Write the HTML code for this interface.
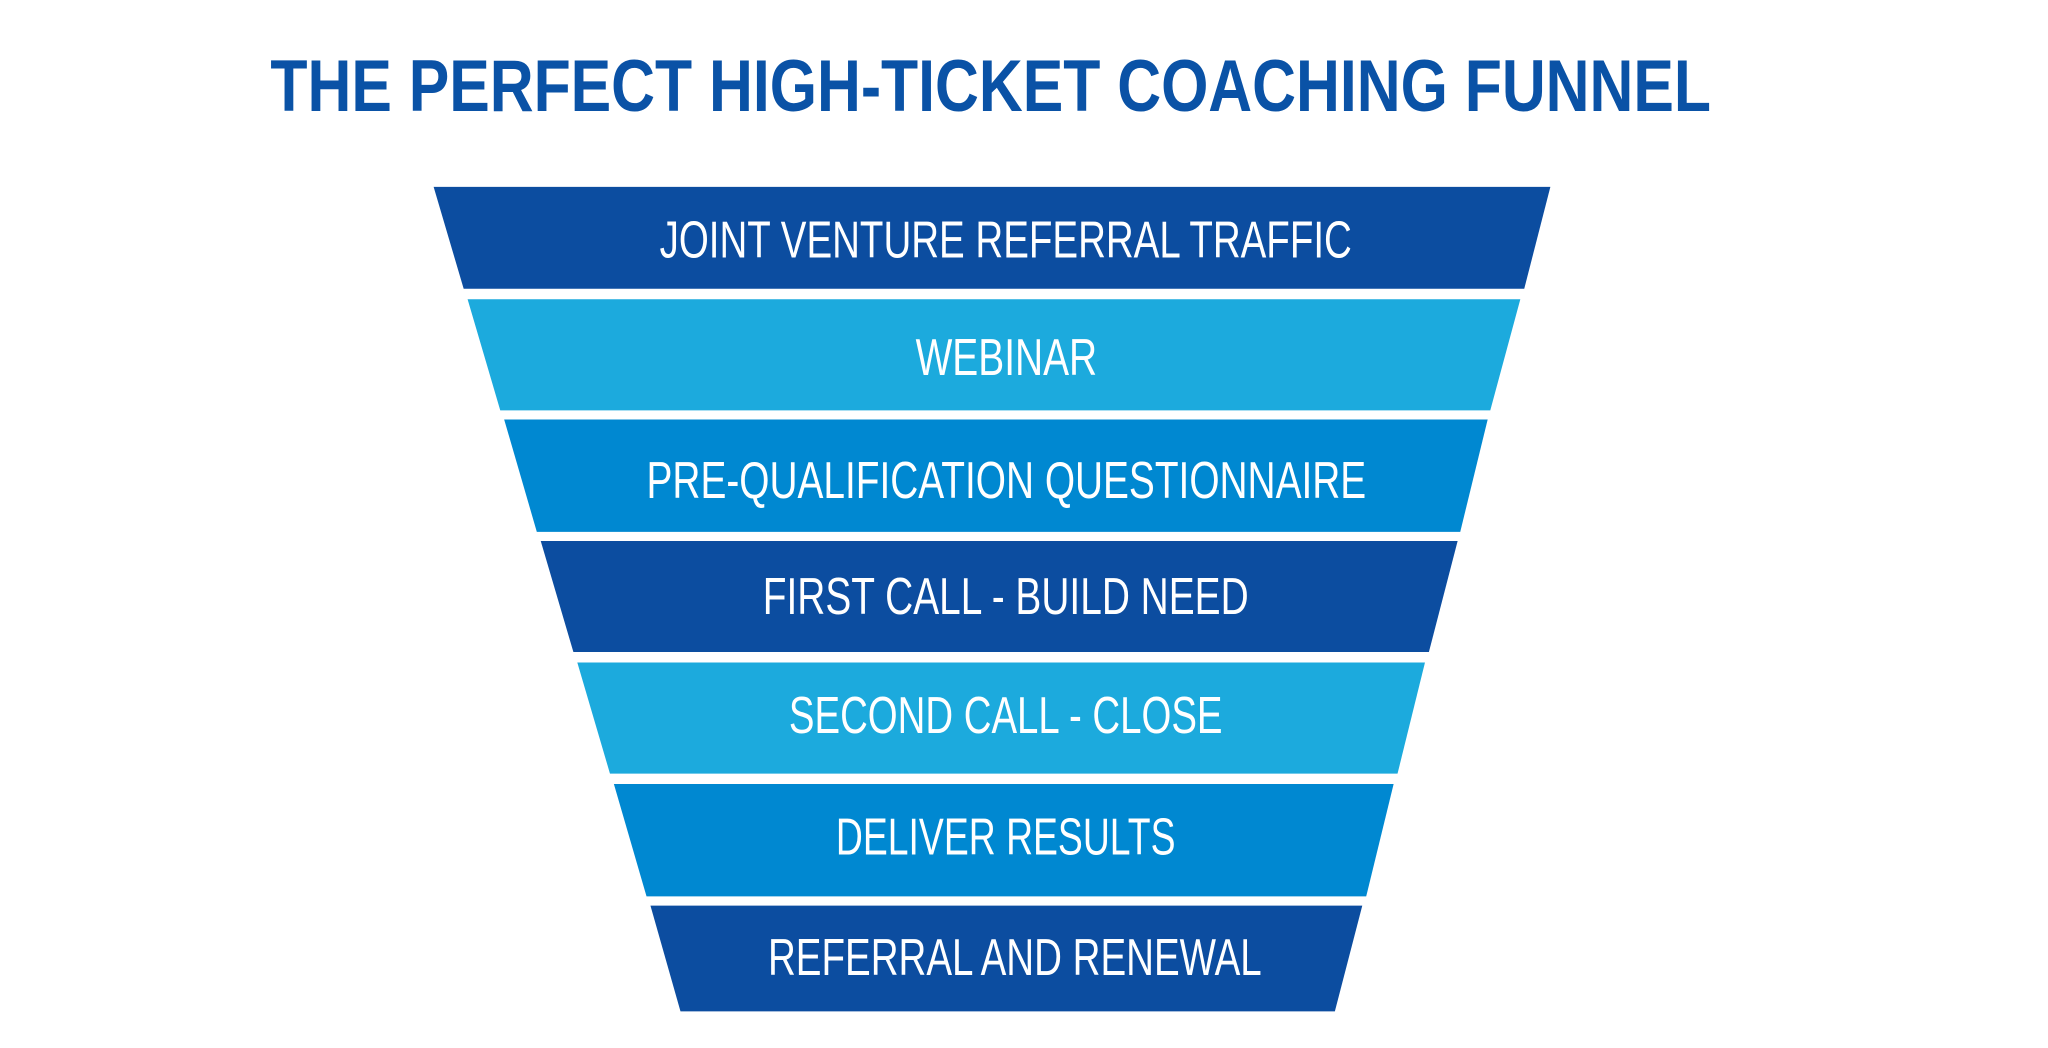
<!DOCTYPE html>
<html><head><meta charset="utf-8"><style>
html,body{margin:0;padding:0;background:#fff;width:2048px;height:1048px;overflow:hidden}
svg{display:block}
text{font-family:"Liberation Sans",sans-serif;fill:#fff}
</style></head><body>
<svg width="2048" height="1048" viewBox="0 0 1568 802" preserveAspectRatio="none">
<text x="207" y="85" font-size="56" font-weight="bold" textLength="1103" lengthAdjust="spacingAndGlyphs" style="fill:#0a52a6">THE PERFECT HIGH-TICKET COACHING FUNNEL</text>
<polygon points="332,143 1187,143 1167,221 355,221" fill="#0c4da0"/>
<polygon points="358,229 1164,229 1141,314 383,314" fill="#1caadd"/>
<polygon points="386,321 1139,321 1118,407 411,407" fill="#0088d1"/>
<polygon points="414,414 1116,414 1094,499 439,499" fill="#0c4da0"/>
<polygon points="442,507 1091,507 1070,592 467,592" fill="#1caadd"/>
<polygon points="470,600 1067,600 1046,686 495,686" fill="#0088d1"/>
<polygon points="498,693 1043,693 1022,774 521,774" fill="#0c4da0"/>
<g font-size="40">
<text x="505" y="197" textLength="530" lengthAdjust="spacingAndGlyphs">JOINT VENTURE REFERRAL TRAFFIC</text>
<text x="701" y="287" textLength="139" lengthAdjust="spacingAndGlyphs">WEBINAR</text>
<text x="495" y="381" textLength="551" lengthAdjust="spacingAndGlyphs">PRE-QUALIFICATION QUESTIONNAIRE</text>
<text x="584" y="470" textLength="372" lengthAdjust="spacingAndGlyphs">FIRST CALL - BUILD NEED</text>
<text x="604" y="561" textLength="332" lengthAdjust="spacingAndGlyphs">SECOND CALL - CLOSE</text>
<text x="640" y="654" textLength="260" lengthAdjust="spacingAndGlyphs">DELIVER RESULTS</text>
<text x="588" y="746" textLength="378" lengthAdjust="spacingAndGlyphs">REFERRAL AND RENEWAL</text>
</g>
</svg>
</body></html>
